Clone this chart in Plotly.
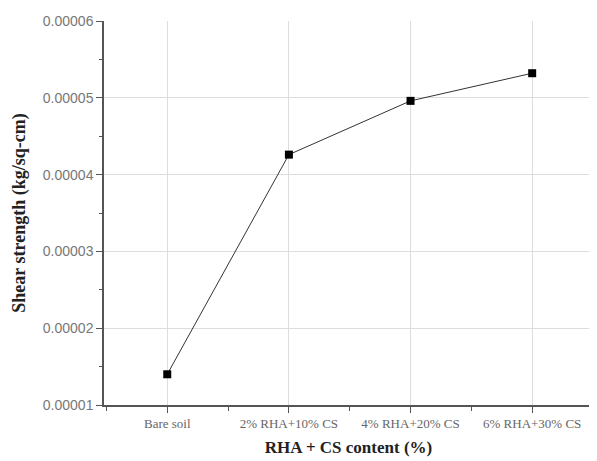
import plotly.graph_objects as go

categories = ["Bare soil", "2% RHA+10% CS", "4% RHA+20% CS", "6% RHA+30% CS"]
shear_strength = [0.0000140, 0.0000426, 0.0000496, 0.0000532]
y_ticks = [0.00001, 0.00002, 0.00003, 0.00004, 0.00005, 0.00006]
y_tick_labels = ["0.00001", "0.00002", "0.00003", "0.00004", "0.00005", "0.00006"]

x_pos = list(range(len(categories)))

fig = go.Figure()
fig.add_trace(go.Scatter(
    x=x_pos, y=shear_strength, mode="lines+markers",
    line=dict(color="#333333", width=1),
    marker=dict(symbol="square", size=8, color="black"),
    showlegend=False,
))

fig.update_layout(
    width=597, height=461,
    margin=dict(l=96, r=12, t=13, b=64, autoexpand=False),
    paper_bgcolor="white", plot_bgcolor="white",
    xaxis=dict(
        range=[-0.52, 3.5], tickvals=x_pos, ticktext=categories,
        automargin=False,
        showline=True, linecolor="#555555", linewidth=1.5,
        ticks="outside", ticklen=6, tickcolor="#555555",
        showgrid=True, gridcolor="#dddddd", gridwidth=1,
        zeroline=False,
        tickfont=dict(family="Liberation Serif", size=13, color="#666666"),
        minor=dict(ticks="outside", ticklen=4, tickcolor="#555555", tick0=0.5, dtick=1, showgrid=False),
        title=dict(text="<b>RHA + CS content (%)</b>", standoff=11,
                   font=dict(family="Liberation Serif", size=17, color="#222222")),
    ),
    yaxis=dict(
        range=[0.00001, 0.00006], tickvals=y_ticks, ticktext=y_tick_labels,
        automargin=False,
        showline=True, linecolor="#555555", linewidth=1.5,
        ticks="outside", ticklen=6, tickcolor="#555555",
        showgrid=True, gridcolor="#dddddd", gridwidth=1,
        zeroline=False,
        tickfont=dict(family="Liberation Sans", size=14, color="#777777"),
        minor=dict(ticks="outside", ticklen=3, tickcolor="#555555", tick0=0.000015, dtick=0.00001, showgrid=False),
        title=dict(text="<b>Shear strength (kg/sq-cm)</b>", standoff=13,
                   font=dict(family="Liberation Serif", size=18, color="#222222")),
    ),
)

fig.write_html("out.html")
